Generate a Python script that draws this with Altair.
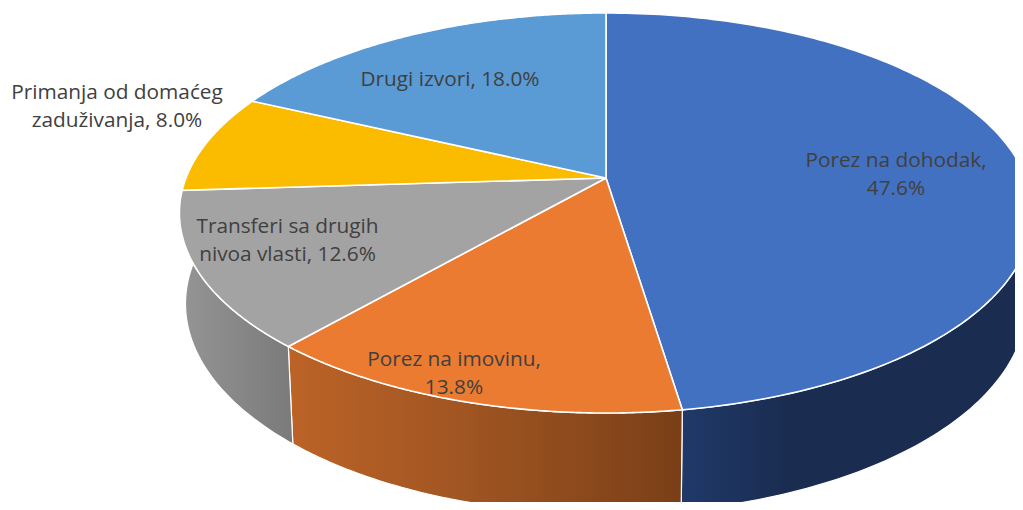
import numpy as np
import altair as alt

categories = ["Porez na dohodak", "Porez na imovinu", "Transferi sa drugih nivoa vlasti",
              "Primanja od domaćeg zaduživanja", "Drugi izvori"]
shares = [47.6, 13.8, 12.6, 8.0, 18.0]
top_colors = ["#4371C1", "#EA7B31", "#A3A3A3", "#FBBC00", "#5A9AD5"]
wall_stops = [
    [("#20396A", 0.0), ("#1A2C50", 0.3), ("#1A2C50", 1.0)],
    [("#BC6327", 0.0), ("#A05522", 0.45), ("#7A3F17", 1.0)],
    [("#959595", 0.0), ("#7A7A7A", 1.0)],
]
labels = ["Porez na dohodak,\n47.6%", "Porez na imovinu,\n13.8%", "Transferi sa drugih\nnivoa vlasti, 12.6%",
          "Primanja od domaćeg\nzaduživanja, 8.0%", "Drugi izvori, 18.0%"]
label_x = [888, 446, 279.5, 109, 442]
label_y = [153, 352, 219, 85, 72]

W, H = 1007, 494
OX, OY = 8, 8
TOP = dict(cx=606, cy=178, a=420, b=193.9, k=0.175)
BOT = dict(cx=606, cy=267, a=414, b=203.6, k=0.175)


def project(theta_deg, face):
    t = np.radians(theta_deg)
    u, v = np.sin(t), np.cos(t)
    d = 1 + face["k"] * v
    return face["cx"] - OX + face["a"] * u / d, face["cy"] - OY - face["b"] * v / d


def feature(xs, ys):
    ring = [[float(x), float(y)] for x, y in zip(xs, ys)]
    ring.append(ring[0])
    return {"type": "Feature", "properties": {}, "geometry": {"type": "Polygon", "coordinates": [ring]}}


ends = np.cumsum(shares) / np.sum(shares) * 360
starts = np.concatenate([[0], ends[:-1]])
projection = alt.Projection(type="identity", scale=1, translate=[0, 0])

layers = []
# visible outer walls, drawn first
wall_spans = [(80, ends[0]), (starts[1], ends[1]), (starts[2], 300)]
for (a, b), stops in zip(wall_spans, wall_stops):
    th = np.linspace(a, b, 90)
    x1, y1 = project(th, TOP)
    x2, y2 = project(th[::-1], BOT)
    wall = feature(np.concatenate([x1, x2]), np.concatenate([y1, y2]))
    grad = alt.LinearGradient(gradient="linear", x1=0, x2=1, y1=0, y2=0,
                              stops=[alt.GradientStop(color=c, offset=o) for c, o in stops])
    layers.append(alt.Chart(alt.Data(values=[wall])).mark_geoshape(
        fill=grad, stroke="white", strokeWidth=1.2, clip=True).project(**projection.to_dict()))

# top faces
for a, b, col in zip(starts, ends, top_colors):
    th = np.linspace(a, b, 160)
    x, y = project(th, TOP)
    cx, cy = project(0, dict(TOP, a=0, b=0))
    face = feature(np.concatenate([[cx], x]), np.concatenate([[cy], y]))
    layers.append(alt.Chart(alt.Data(values=[face])).mark_geoshape(
        fill=col, stroke="white", strokeWidth=1.6, clip=True).project(**projection.to_dict()))

text_data = alt.Data(values=[{"label": l, "x": x, "y": y} for l, x, y in zip(labels, label_x, label_y)])
text = alt.Chart(text_data).mark_text(
    font="Open Sans", fontSize=20.8, color="#404040", lineBreak="\n", lineHeight=28, align="center", baseline="middle"
).encode(
    x=alt.X("x:Q", scale=alt.Scale(domain=[0, W], zero=False, nice=False), axis=None),
    y=alt.Y("y:Q", scale=alt.Scale(domain=[0, H], range=[0, H], zero=False, nice=False), axis=None),
    text="label:N",
)
layers.append(text)

chart = alt.layer(*layers).properties(
    width=W, height=H, padding=0, autosize=alt.AutoSizeParams(type="none"), background="white"
).configure_view(stroke=None).resolve_scale(x="independent", y="independent")
chart.save("out.html", embed_options={"renderer": "svg", "actions": False})
